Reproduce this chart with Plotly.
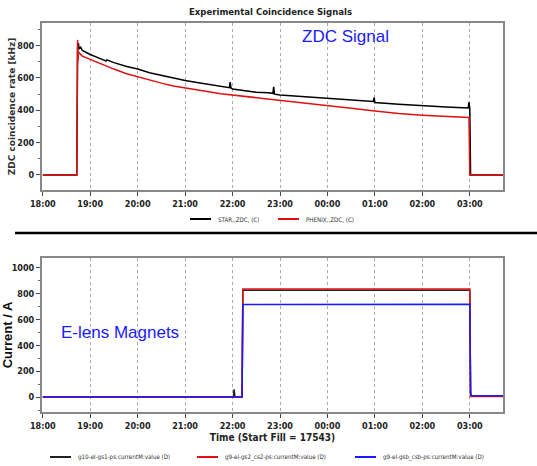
import plotly.graph_objects as go

D1 = "2013-05-20 "
D2 = "2013-05-21 "

# ---------------- top panel: ZDC coincidence rates ----------------
star_t = [D1+"18:00", D1+"18:43", D1+"18:44", D1+"18:45", D1+"18:46", D1+"18:48", D1+"18:50",
          D1+"19:00", D1+"19:15", D1+"19:20", D1+"19:21", D1+"19:30", D1+"19:45", D1+"20:00",
          D1+"20:15", D1+"20:30", D1+"20:45", D1+"21:00", D1+"21:15", D1+"21:30", D1+"21:45",
          D1+"21:56", D1+"21:57", D1+"21:58", D1+"22:00", D1+"22:15", D1+"22:30", D1+"22:45",
          D1+"22:51", D1+"22:52", D1+"22:53", D1+"23:00", D1+"23:30", D2+"00:00", D2+"00:30",
          D2+"00:58", D2+"00:59", D2+"01:00", D2+"01:30", D2+"02:00", D2+"02:30", D2+"02:58",
          D2+"02:59", D2+"03:00", D2+"03:01", D2+"03:42"]
star_v = [0, 0, 790, 815, 780, 790, 770,
          745, 715, 705, 712, 695, 672, 655,
          632, 615, 598, 585, 572, 560, 548,
          540, 575, 538, 532, 520, 512, 508,
          505, 545, 500, 495, 485, 478, 466,
          455, 478, 448, 438, 427, 420, 414,
          450, 410, 0, 0]

phenix_t = [D1+"18:00", D1+"18:43", D1+"18:44", D1+"18:44:30", D1+"18:45", D1+"18:50", D1+"19:00",
            D1+"19:15", D1+"19:30", D1+"19:45", D1+"20:00", D1+"20:15", D1+"20:30", D1+"20:45",
            D1+"21:00", D1+"21:15", D1+"21:30", D1+"21:45", D1+"22:00", D1+"22:15", D1+"22:30",
            D1+"22:45", D1+"23:00", D1+"23:30", D2+"00:00", D2+"00:30", D2+"01:00", D2+"01:30",
            D2+"02:00", D2+"02:30", D2+"02:59", D2+"03:00", D2+"03:42"]
phenix_v = [0, 0, 835, 700, 760, 735, 715,
            680, 655, 628, 608, 585, 568, 550,
            537, 525, 515, 503, 495, 485, 478,
            472, 462, 445, 430, 412, 395, 380,
            370, 362, 355, 0, 0]

# ---------------- bottom panel: e-lens magnet currents ----------------
gs1_t = [D1+"18:00", D1+"22:01", D1+"22:02", D1+"22:03", D1+"22:12", D1+"22:13", D2+"03:00",
         D2+"03:01", D2+"03:42"]
gs1_v = [0, 0, 60, 0, 0, 825, 825, 10, 8]

gs2_t = [D1+"18:00", D1+"22:12", D1+"22:13", D2+"03:00", D2+"03:01", D2+"03:42"]
gs2_v = [0, 0, 835, 835, 5, 5]

gsb_t = [D1+"18:00", D1+"22:12", D1+"22:13", D2+"03:00", D2+"03:01", D2+"03:02", D2+"03:42"]
gsb_v = [0, 0, 715, 718, 40, 10, 10]

hour_ticks = [D1+"18:00", D1+"19:00", D1+"20:00", D1+"21:00", D1+"22:00", D1+"23:00",
              D2+"00:00", D2+"01:00", D2+"02:00", D2+"03:00"]
hour_labels = ["18:00", "19:00", "20:00", "21:00", "22:00", "23:00",
               "00:00", "01:00", "02:00", "03:00"]
x_range = [D1+"17:59", D2+"03:42"]

top_names = ["STAR,,ZDC, (C)", "PHENIX,,ZDC, (C)"]
bot_names = ["g10-el-gs1-ps:currentM:value (D)", "g9-el-gs2_cs2-ps:currentM:value (D)",
             "g9-el-gsb_csb-ps:currentM:value (D)"]
top_colors = ["black", "#e01010"]
bot_colors = ["#222", "#e01010", "#1a1aff"]

W, H = 537, 466
TICKFONT = dict(family="Liberation Sans Narrow, DejaVu Sans Condensed, Arial Narrow, sans-serif",
                size=9, color="#222", weight="bold")
LEGFONT = dict(family="DejaVu Sans Condensed, Liberation Sans Narrow, sans-serif", size=6.2, color="#333")

fig = go.Figure()
fig.add_trace(go.Scatter(x=star_t, y=star_v, mode="lines", name=top_names[0],
                         line=dict(color=top_colors[0], width=1.5), xaxis="x", yaxis="y"))
fig.add_trace(go.Scatter(x=phenix_t, y=phenix_v, mode="lines", name=top_names[1],
                         line=dict(color=top_colors[1], width=1.5), xaxis="x", yaxis="y"))
fig.add_trace(go.Scatter(x=gs1_t, y=gs1_v, mode="lines", name=bot_names[0],
                         line=dict(color=bot_colors[0], width=1.5), xaxis="x2", yaxis="y2"))
fig.add_trace(go.Scatter(x=gs2_t, y=gs2_v, mode="lines", name=bot_names[1],
                         line=dict(color=bot_colors[1], width=1.5), xaxis="x2", yaxis="y2"))
fig.add_trace(go.Scatter(x=gsb_t, y=gsb_v, mode="lines", name=bot_names[2],
                         line=dict(color=bot_colors[2], width=1.5), xaxis="x2", yaxis="y2"))

xdom = [42/W, 503/W]
common_x = dict(range=x_range, tickvals=hour_ticks, ticktext=hour_labels, showgrid=True,
                gridcolor="#aaa", griddash="dot", gridwidth=1, showline=True, linecolor="#888",
                linewidth=2, mirror=True, ticks="outside", ticklen=4, tickcolor="#444",
                tickfont=TICKFONT, zeroline=False, domain=xdom, automargin=False)
common_y = dict(showgrid=False, showline=True, linecolor="#888", linewidth=2, mirror=True,
                ticks="outside", ticklen=4, tickcolor="#444", tickfont=TICKFONT, zeroline=False,
                automargin=False,
                minor=dict(ticks="outside", ticklen=2, dtick=100, tickcolor="#666"))

fig.update_layout(
    width=W, height=H, margin=dict(l=0, r=0, t=0, b=0, autoexpand=False),
    paper_bgcolor="white", plot_bgcolor="white", showlegend=False,
    xaxis=dict(**common_x, anchor="y"),
    yaxis=dict(**common_y, domain=[1-190/H, 1-23/H], range=[-93, 940], tickvals=[0, 200, 400, 600, 800],
               title=dict(text="ZDC coincidence rate [kHz]", standoff=0,
                          font=dict(family="DejaVu Sans, sans-serif", size=9, color="#333", weight="bold"))),
    xaxis2=dict(**common_x, anchor="y2",
                title=dict(text="Time (Start Fill = 17543)", standoff=4,
                           font=dict(family="Liberation Sans Narrow, DejaVu Sans Condensed, sans-serif",
                                     size=10, color="#222", weight="bold"))),
    yaxis2=dict(**common_y, domain=[1-412/H, 1-258/H], range=[-115, 1075],
                tickvals=[0, 200, 400, 600, 800, 1000],
                title=dict(text="Current / A", standoff=2,
                           font=dict(family="Liberation Sans, Arial, sans-serif", size=13,
                                     color="#111", weight="bold"))),
)

# legend swatches and labels (paper coordinates)
def legend_entry(x0, y, color, text):
    fig.add_shape(type="line", xref="paper", yref="paper", x0=x0/W, x1=(x0+21)/W,
                  y0=1-y/H, y1=1-y/H, line=dict(color=color, width=2))
    fig.add_annotation(text=text, xref="paper", yref="paper", x=(x0+26)/W, y=1-y/H,
                       showarrow=False, xanchor="left", yanchor="middle", font=LEGFONT)

legend_entry(190, 219, top_colors[0], top_names[0])
legend_entry(278, 219, top_colors[1], top_names[1])
legend_entry(50, 457, bot_colors[0], bot_names[0])
legend_entry(197, 457, bot_colors[1], bot_names[1])
legend_entry(355, 457, bot_colors[2], bot_names[2])

fig.add_annotation(text="Experimental Coincidence Signals", xref="paper", yref="paper",
                   x=270/W, y=1-11/H, showarrow=False, xanchor="center", yanchor="middle",
                   font=dict(family="Liberation Sans Narrow, DejaVu Sans Condensed, sans-serif",
                             size=9.5, color="#222", weight="bold"))
fig.add_annotation(text="ZDC Signal", xref="paper", yref="paper", x=300/W, y=1-37/H,
                   showarrow=False, xanchor="left", yanchor="middle",
                   font=dict(family="Liberation Sans, Arial, sans-serif", size=17, color="#1a1aff"))
fig.add_annotation(text="E-lens Magnets", xref="paper", yref="paper", x=59/W, y=1-332/H,
                   showarrow=False, xanchor="left", yanchor="middle",
                   font=dict(family="Liberation Sans, Arial, sans-serif", size=17, color="#1a1aff"))
fig.add_shape(type="line", xref="paper", yref="paper", x0=15/W, x1=1, y0=1-233/H, y1=1-233/H,
              line=dict(color="black", width=2.5))

fig.write_html("out.html", config={"displayModeBar": False},
               post_script="document.body.style.margin='0';document.body.style.overflow='hidden';")
